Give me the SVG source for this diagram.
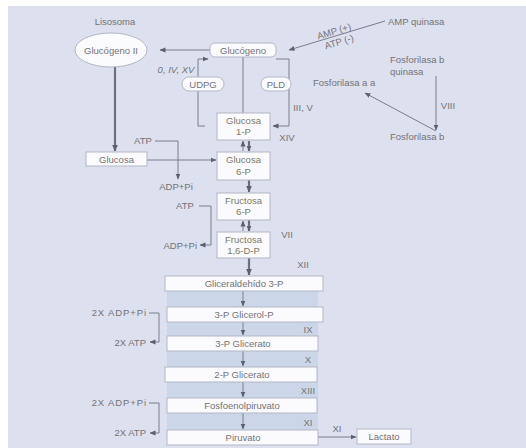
<svg xmlns="http://www.w3.org/2000/svg" width="526" height="448" viewBox="0 0 526 448">
<defs>
  <marker id="ah" markerWidth="6" markerHeight="6" refX="5.5" refY="3" orient="auto" markerUnits="userSpaceOnUse">
    <path d="M0,0.5 L6,3 L0,5.5 z" fill="#5c606e"/>
  </marker>
  <marker id="ahb" markerWidth="7" markerHeight="7" refX="6.5" refY="3.5" orient="auto" markerUnits="userSpaceOnUse">
    <path d="M0,0.5 L7,3.5 L0,6.5 z" fill="#5c606e"/>
  </marker>
</defs>
<style>
  .t{font-family:"Liberation Sans",Arial,sans-serif;font-size:9.5px;fill:#737377}
  .m{text-anchor:middle}
  .e{text-anchor:end}
  .it{font-style:italic}
  .w{letter-spacing:0.9px}
  .bt{fill:#7c7a64}
  .box{fill:#fbfbfd;stroke:#b3b7c6;stroke-width:1}
  .ln{fill:none;stroke:#7a7e8c;stroke-width:1}
  .thick{stroke-width:2.2;stroke:#6c707e}
</style>

<!-- page and backdrop -->
<rect width="526" height="448" fill="#ffffff"/>
<rect x="8" y="6" width="518" height="442" fill="#dde0ee"/>
<!-- glycolysis column band -->
<rect x="167" y="290" width="151" height="142" fill="#cbd7e9"/>

<g id="connectors">
  <line class="ln" x1="210" y1="50" x2="160" y2="50" marker-end="url(#ah)"/>
  <line class="ln" x1="385" y1="21" x2="289" y2="50" marker-end="url(#ah)"/>
  <line class="ln" x1="436" y1="76" x2="436" y2="130" marker-end="url(#ah)"/>
  <line class="ln" x1="436" y1="131" x2="365" y2="93" marker-end="url(#ah)"/>
  <path class="ln" d="M205,126 H198 V59 H208" marker-end="url(#ah)"/>
  <line class="ln" x1="243" y1="57" x2="243" y2="113"/>
  <path class="ln" d="M276,59 H289 V126 H273" marker-end="url(#ah)"/>
  <line class="ln thick" x1="115" y1="67" x2="115" y2="151" marker-end="url(#ahb)"/>
  <line class="ln" x1="147" y1="160" x2="216" y2="160" marker-end="url(#ah)"/>
  <path class="ln" d="M155,141 H178 V179" marker-end="url(#ah)"/>
  <path class="ln" d="M199,206 H211 V245 H200" marker-end="url(#ah)"/>
  <line class="ln" x1="243" y1="151" x2="243" y2="141" marker-end="url(#ah)"/>
  <line class="ln thick" x1="249" y1="141" x2="249" y2="151" marker-end="url(#ah)"/>
  <line class="ln thick" x1="249" y1="180" x2="249" y2="192" marker-end="url(#ahb)"/>
  <line class="ln" x1="243" y1="231" x2="243" y2="221" marker-end="url(#ah)"/>
  <line class="ln thick" x1="249" y1="220" x2="249" y2="231" marker-end="url(#ah)"/>
  <line class="ln thick" x1="249" y1="258" x2="249" y2="275" marker-end="url(#ahb)"/>
  <line class="ln" x1="243" y1="291" x2="243" y2="306" marker-end="url(#ah)"/>
  <line class="ln" x1="243" y1="322" x2="243" y2="335" marker-end="url(#ah)"/>
  <line class="ln" x1="243" y1="351" x2="243" y2="366" marker-end="url(#ah)"/>
  <line class="ln" x1="243" y1="382" x2="243" y2="397" marker-end="url(#ah)"/>
  <line class="ln" x1="243" y1="413" x2="243" y2="429" marker-end="url(#ah)"/>
  <path class="ln" d="M149,313 H159 V342 H150" marker-end="url(#ah)"/>
  <path class="ln" d="M149,403 H159 V433 H150" marker-end="url(#ah)"/>
  <line class="ln" x1="318" y1="437" x2="356" y2="437" marker-end="url(#ah)"/>
</g>

<!-- connector labels -->
<g id="labels">
  <text class="t m" x="115" y="25">Lisosoma</text>
  <text class="t" x="388" y="25">AMP quinasa</text>
  <text class="t m" transform="translate(335,34.5) rotate(-17)">AMP (+)</text>
  <text class="t m" transform="translate(340,45) rotate(-17)">ATP (-)</text>
  <text class="t" x="390" y="63">Fosforilasa b</text>
  <text class="t" x="390" y="75">quinasa</text>
  <text class="t" x="313" y="86">Fosforilasa a a</text>
  <text class="t" x="390" y="140">Fosforilasa b</text>
  <text class="t m" x="448" y="109">VIII</text>
  <text class="t m it" x="176" y="73">0, IV, XV</text>
  <text class="t m" x="303" y="111">III, V</text>
  <text class="t m" x="287" y="141">XIV</text>
  <text class="t m" x="287" y="238">VII</text>
  <text class="t m" x="303" y="268">XII</text>
  <text class="t m" x="308" y="333">IX</text>
  <text class="t m" x="308" y="363">X</text>
  <text class="t m" x="308" y="394">XIII</text>
  <text class="t m" x="308" y="426">XI</text>
  <text class="t m" x="337" y="432">XI</text>
  <text class="t m" x="143" y="144">ATP</text>
  <text class="t m" x="176" y="189.5">ADP+Pi</text>
  <text class="t m" x="185" y="209">ATP</text>
  <text class="t e" x="197" y="248.5">ADP+Pi</text>
  <text class="t e w" x="147" y="316">2X ADP+Pi</text>
  <text class="t e" x="146" y="345.5">2X ATP</text>
  <text class="t e w" x="147" y="406">2X ADP+Pi</text>
  <text class="t e" x="146" y="436">2X ATP</text>
</g>

<g id="glucogeno-ii">
  <ellipse cx="111" cy="50" rx="36" ry="17" fill="#fbfbfd" stroke="#b3b7c6"/>
  <text class="t m" x="111" y="53.5">Glucógeno II</text>
</g>
<g id="glucogeno">
  <rect class="box" x="210" y="43" width="66" height="14" rx="5"/>
  <text class="t m" x="243" y="53.5">Glucógeno</text>
</g>
<g id="udpg">
  <rect class="box" x="182" y="77" width="42" height="14" rx="7"/>
  <text class="t m" x="203" y="87.5">UDPG</text>
</g>
<g id="pld">
  <rect class="box" x="261" y="77" width="30" height="14" rx="7"/>
  <text class="t m" x="276" y="87.5">PLD</text>
</g>
<g id="glucosa-1p">
  <rect class="box" x="217" y="113" width="53" height="27"/>
  <text class="t m bt" x="243.5" y="123.5">Glucosa</text>
  <text class="t m bt" x="243.5" y="135">1-P</text>
</g>
<g id="glucosa">
  <rect class="box" x="86" y="152" width="61" height="14"/>
  <text class="t m" x="116.5" y="162.5">Glucosa</text>
</g>
<g id="glucosa-6p">
  <rect class="box" x="217" y="152" width="53" height="28"/>
  <text class="t m bt" x="243.5" y="163">Glucosa</text>
  <text class="t m bt" x="243.5" y="174.5">6-P</text>
</g>
<g id="fructosa-6p">
  <rect class="box" x="217" y="193" width="53" height="27"/>
  <text class="t m bt" x="243.5" y="203.5">Fructosa</text>
  <text class="t m bt" x="243.5" y="215">6-P</text>
</g>
<g id="fructosa-16dp">
  <rect class="box" x="217" y="232" width="53" height="26"/>
  <text class="t m bt" x="243.5" y="242.5">Fructosa</text>
  <text class="t m bt" x="243.5" y="254">1,6-D-P</text>
</g>
<g id="gliceraldehido-3p">
  <rect class="box" x="165" y="276" width="158" height="15"/>
  <text class="t m" x="244" y="287">Gliceraldehído 3-P</text>
</g>
<g id="glicerol-p">
  <rect class="box" x="167" y="307" width="156" height="15"/>
  <text class="t m" x="244" y="318">3-P Glicerol-P</text>
</g>
<g id="glicerato-3p">
  <rect class="box" x="167" y="336" width="151" height="15"/>
  <text class="t m" x="243" y="347">3-P Glicerato</text>
</g>
<g id="glicerato-2p">
  <rect class="box" x="165" y="367" width="152" height="15"/>
  <text class="t m" x="242" y="378">2-P Glicerato</text>
</g>
<g id="fosfoenolpiruvato">
  <rect class="box" x="167" y="398" width="150" height="15"/>
  <text class="t m" x="242" y="409">Fosfoenolpiruvato</text>
</g>
<g id="piruvato">
  <rect class="box" x="167" y="430" width="151" height="15"/>
  <text class="t m" x="243" y="441">Piruvato</text>
</g>
<g id="lactato">
  <rect class="box" x="357" y="429" width="54" height="15"/>
  <text class="t m" x="384" y="440">Lactato</text>
</g>
</svg>
